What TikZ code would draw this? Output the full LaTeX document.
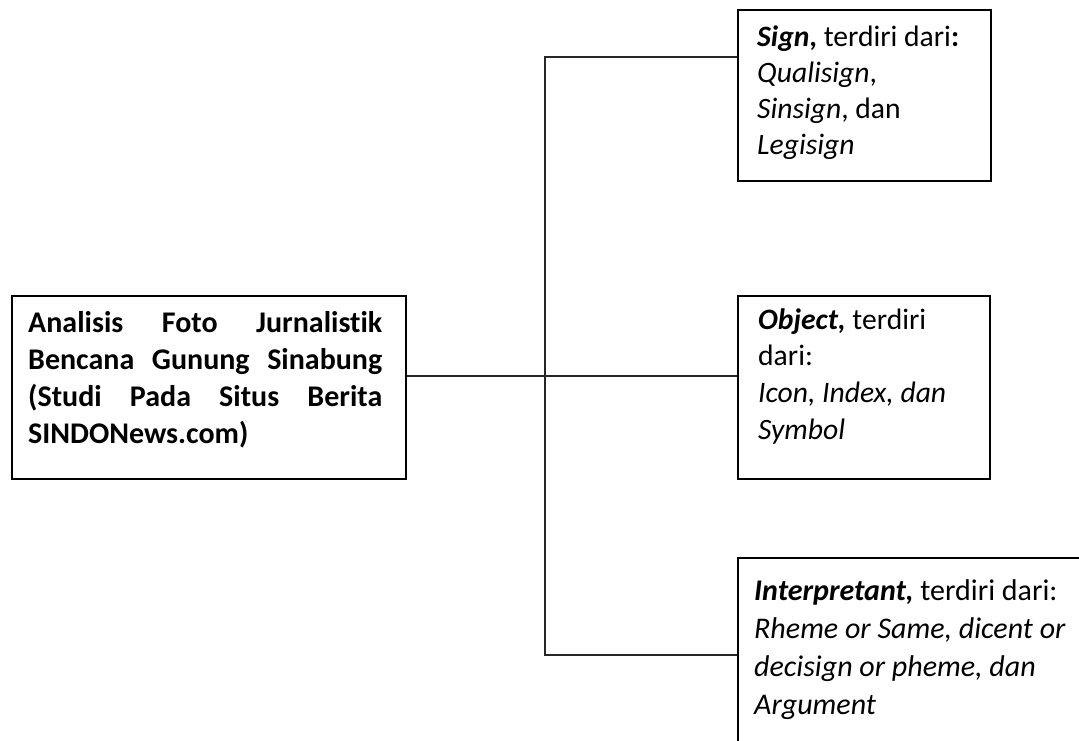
\documentclass[tikz,border=0pt]{standalone}
\usepackage{fontspec}
\setmainfont{Carlito}[Ligatures={NoCommon}]
\begin{document}
\begin{tikzpicture}[x=1pt,y=-1pt,
  box/.style={draw=black,line width=1.7pt,rectangle,inner sep=0pt,anchor=north west},
  conn/.style={draw=black!85,line width=1.4pt},
  txt/.style={anchor=base west,inner sep=0pt,font=\fontsize{29.6}{35.7}\selectfont}]
\path[clip] (0,0) rectangle (1079,741);
\fill[white] (0,0) rectangle (1079,741);
% boxes
\node[box,minimum width=394pt,minimum height=183pt] (main) at (11,295) {};
\node[box,minimum width=253pt,minimum height=171pt] (sign) at (737,9) {};
\node[box,minimum width=252pt,minimum height=183pt] (obj) at (737,295) {};
\node[box,minimum width=420pt,minimum height=240pt] (interp) at (737,557) {};
% texts
\node[txt,font=\fontsize{30}{37.2}\selectfont] (maintxt) at (28,332) {\parbox[t]{354pt}{\bfseries Analisis Foto Jurnalistik\linebreak Bencana Gunung Sinabung\linebreak (Studi Pada Situs Berita\linebreak SINDONews.com)}};
\node[txt] (signtxt) at (757,47) {\parbox[t]{230pt}{\raggedright\textbf{\textit{Sign}}\textbf{,} terdiri dari\textbf{:}\\ \textit{Qualisign},\\ \textit{Sinsign}, dan\\ \textit{Legisign}}};
\node[txt,font=\fontsize{29.6}{36.7}\selectfont] (objtxt) at (758,329) {\parbox[t]{230pt}{\raggedright\textbf{\textit{Object,}} terdiri\\ dari:\\ \textit{Icon, Index, dan}\\ \textit{Symbol}}};
\node[txt,font=\fontsize{30}{38.3}\selectfont] (interptxt) at (754,600) {\parbox[t]{330pt}{\raggedright\textbf{\textit{Interpretant,}} terdiri dari:\\ \textit{Rheme or Same, dicent or}\\ \textit{decisign or pheme, dan}\\ \textit{Argument}}};
% connectors
\coordinate (ts) at (545,57);
\coordinate (tm) at (545,376);
\coordinate (ti) at (545,655);
\draw[conn] (ts -| sign.west) -- (ts) -- (ti) -- (ti -| interp.west);
\draw[conn] (tm -| main.east) -- (tm -| obj.west);
\end{tikzpicture}
\end{document}
